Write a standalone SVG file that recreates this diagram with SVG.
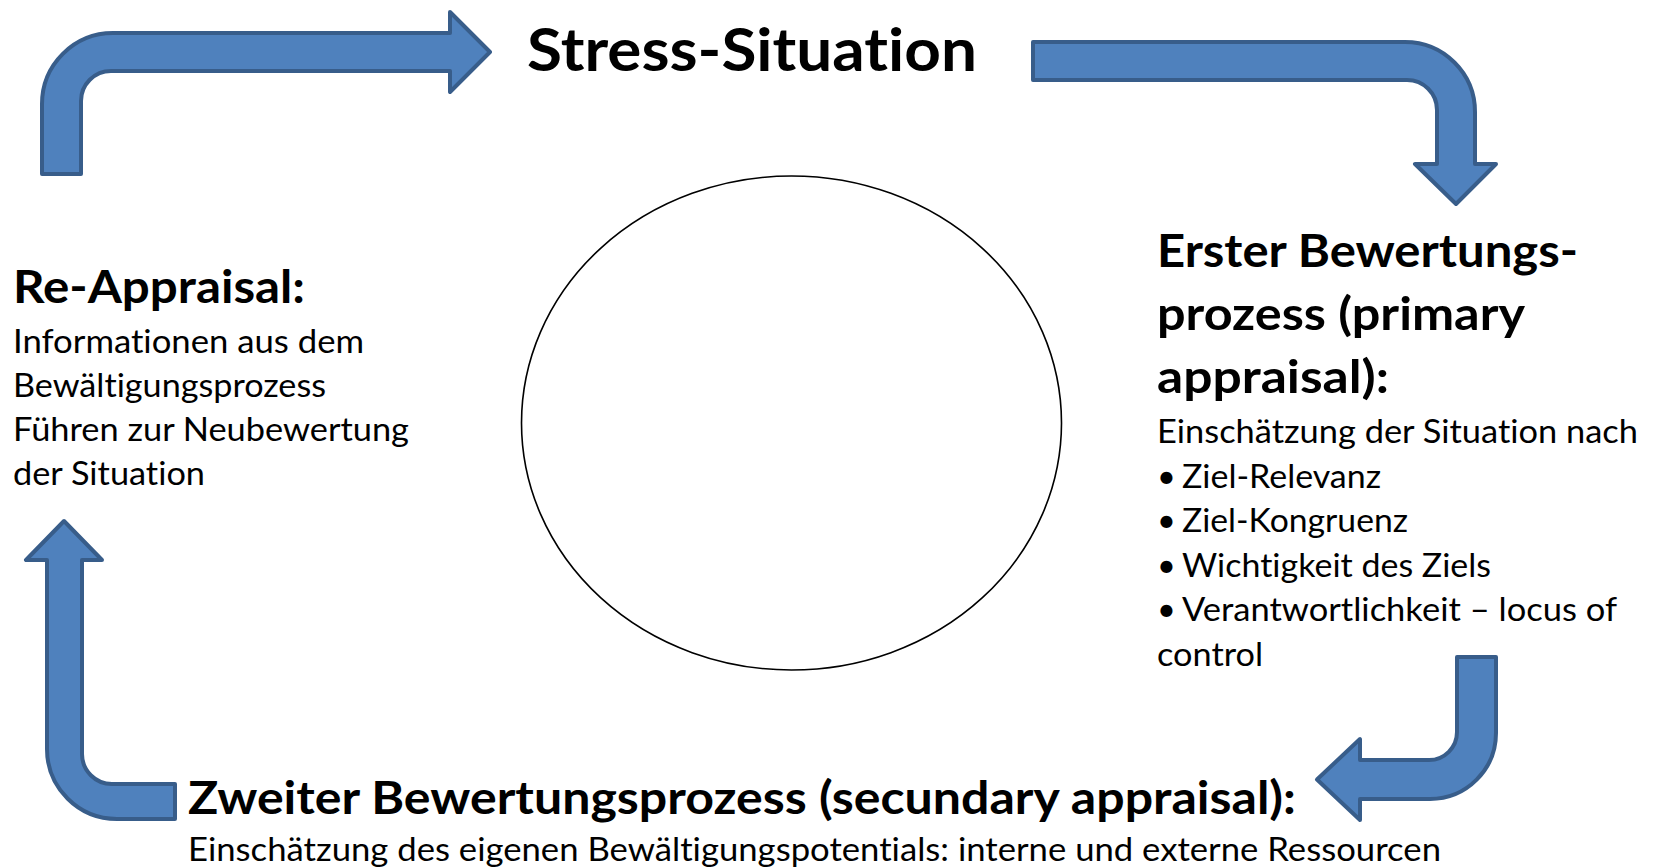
<svg xmlns="http://www.w3.org/2000/svg" width="1658" height="868" viewBox="0 0 1658 868">
<style>
.arrow{fill:#4F81BD;stroke:#385D8A;stroke-width:4;stroke-linejoin:round}
.t{font-family:Lato,"Open Sans","Liberation Sans",sans-serif;fill:#000;font-variant-ligatures:none;font-feature-settings:"liga" 0,"clig" 0}
.title{font-size:60px;font-weight:700}
.h{font-size:46px;font-weight:700}
.b{font-size:32.5px;font-weight:400}
</style>
<rect width="1658" height="868" fill="#fff"/>
<g id="connectors">
<path class="arrow" d="M42,174 L42,104 A71,71 0 0 1 113,33 L450,33 L450,12 L490,52 L450,92 L450,71 L111,71 A30,30 0 0 0 81,101 L81,174 Z"/>
<path class="arrow" d="M1033,42 L1405,42 A70,70 0 0 1 1475,112 L1475,164 L1496,164 L1456,204 L1415,164 L1437,164 L1437,110 A30,30 0 0 0 1407,80 L1033,80 Z"/>
<path class="arrow" d="M1457,657 L1496,657 L1496,733 A66,66 0 0 1 1430,799 L1360,799 L1360,820 L1317,779.5 L1360,739 L1360,760 L1429,760 A28,28 0 0 0 1457,732 Z"/>
<path class="arrow" d="M175,784 L112,784 A30,30 0 0 1 82,754 L82,560 L102,560 L64,521 L26,560 L47,560 L47,749 A70,70 0 0 0 117,819 L175,819 Z"/>
</g>
<g id="center">
<ellipse cx="791.5" cy="423" rx="270" ry="247" fill="none" stroke="#000" stroke-width="1.6"/>
</g>
<g id="stress-situation">
<text class="t title" x="527" y="71" textLength="450" lengthAdjust="spacingAndGlyphs">Stress-Situation</text>
</g>
<g id="re-appraisal">
<text class="t h" x="13" y="303" textLength="292" lengthAdjust="spacingAndGlyphs">Re-Appraisal:</text>
<text class="t b" x="13" y="353" textLength="351" lengthAdjust="spacingAndGlyphs">Informationen aus dem</text>
<text class="t b" x="13" y="397" textLength="313" lengthAdjust="spacingAndGlyphs">Bewältigungsprozess</text>
<text class="t b" x="13" y="441" textLength="396" lengthAdjust="spacingAndGlyphs">Führen zur Neubewertung</text>
<text class="t b" x="13" y="485" textLength="192" lengthAdjust="spacingAndGlyphs">der Situation</text>
</g>
<g id="primary-appraisal">
<text class="t h" x="1157" y="267" textLength="421" lengthAdjust="spacingAndGlyphs">Erster Bewertungs-</text>
<text class="t h" x="1157" y="330" textLength="368" lengthAdjust="spacingAndGlyphs">prozess (primary</text>
<text class="t h" x="1157" y="393" textLength="232" lengthAdjust="spacingAndGlyphs">appraisal):</text>
<text class="t b" x="1157" y="443" textLength="481" lengthAdjust="spacingAndGlyphs">Einschätzung der Situation nach</text>
<text class="t b" x="1157" y="487.5">•</text>
<text class="t b" x="1182" y="487.5" textLength="199" lengthAdjust="spacingAndGlyphs">Ziel-Relevanz</text>
<text class="t b" x="1157" y="532">•</text>
<text class="t b" x="1182" y="532" textLength="226" lengthAdjust="spacingAndGlyphs">Ziel-Kongruenz</text>
<text class="t b" x="1157" y="576.5">•</text>
<text class="t b" x="1182" y="576.5" textLength="309" lengthAdjust="spacingAndGlyphs">Wichtigkeit des Ziels</text>
<text class="t b" x="1157" y="621">•</text>
<text class="t b" x="1182" y="621" textLength="435" lengthAdjust="spacingAndGlyphs">Verantwortlichkeit – locus of</text>
<text class="t b" x="1157" y="665.5" textLength="106" lengthAdjust="spacingAndGlyphs">control</text>
</g>
<g id="secondary-appraisal">
<text class="t h" x="188" y="814" textLength="1108" lengthAdjust="spacingAndGlyphs">Zweiter Bewertungsprozess (secundary appraisal):</text>
<text class="t b" x="188" y="861" textLength="1253" lengthAdjust="spacingAndGlyphs">Einschätzung des eigenen Bewältigungspotentials: interne und externe Ressourcen</text>
</g>
</svg>
